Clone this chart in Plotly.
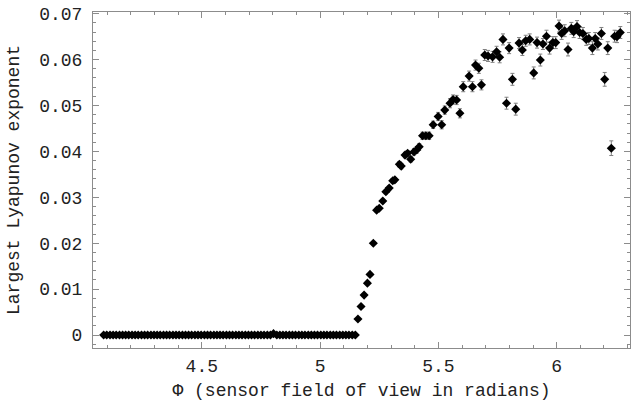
import plotly.graph_objects as go

# Flat (zero) region
x_flat = [4.085, 4.098, 4.112, 4.125, 4.138, 4.152, 4.165, 4.178, 4.191, 4.205,
          4.218, 4.231, 4.245, 4.258, 4.271, 4.285, 4.298, 4.311, 4.324, 4.338,
          4.351, 4.364, 4.378, 4.391, 4.404, 4.418, 4.431, 4.444, 4.457, 4.471,
          4.484, 4.497, 4.511, 4.524, 4.537, 4.551, 4.564, 4.577, 4.590, 4.604,
          4.617, 4.630, 4.644, 4.657, 4.670, 4.684, 4.697, 4.710, 4.723, 4.737,
          4.750, 4.763, 4.777, 4.790, 4.803, 4.817, 4.830, 4.843, 4.856, 4.870,
          4.883, 4.896, 4.910, 4.923, 4.936, 4.950, 4.963, 4.976, 4.989, 5.003,
          5.016, 5.029, 5.043, 5.056, 5.069, 5.083, 5.096, 5.109, 5.122, 5.136,
          5.149]
y_flat = [0, 0, 0, 0, 0, 0, 0, 0, 0, 0,
          0, 0, 0, 0, 0, 0, 0, 0, 0, 0,
          0, 0, 0, 0, 0, 0, 0, 0, 0, 0,
          0, 0, 0, 0, 0, 0, 0, 0, 0, 0,
          0, 0, 0, 0, 0, 0, 0, 0, 0, 0,
          0, 0, 0, 0, 0.0003, 0, 0, 0, 0, 0,
          0, 0, 0, 0, 0, 0, 0, 0, 0, 0,
          0, 0, 0, 0, 0, 0, 0, 0, 0, 0,
          0]

# Chaotic region
x_rise = [5.160, 5.173, 5.186, 5.200, 5.211, 5.225, 5.239, 5.250, 5.265, 5.278,
          5.292, 5.307, 5.316, 5.335, 5.343, 5.359, 5.370, 5.383, 5.397, 5.408,
          5.419, 5.433, 5.447, 5.461, 5.478, 5.499, 5.514, 5.527, 5.549, 5.562,
          5.577, 5.591, 5.605, 5.630, 5.644, 5.657, 5.671, 5.682, 5.696, 5.710,
          5.729, 5.746, 5.759, 5.773, 5.788, 5.799, 5.813, 5.827, 5.841, 5.855,
          5.869, 5.886, 5.903, 5.917, 5.931, 5.942, 5.957, 5.970, 5.984, 5.996,
          6.010, 6.021, 6.034, 6.048, 6.062, 6.072, 6.086, 6.097, 6.111, 6.125,
          6.136, 6.151, 6.163, 6.174, 6.189, 6.203, 6.216, 6.231, 6.245, 6.255,
          6.269]
y_rise = [0.0035, 0.0062, 0.0087, 0.0113, 0.0132, 0.0200, 0.0272, 0.0276, 0.0292, 0.0312,
          0.0320, 0.0336, 0.0338, 0.0372, 0.0368, 0.0392, 0.0396, 0.0383, 0.0399, 0.0403,
          0.0410, 0.0434, 0.0434, 0.0434, 0.0458, 0.0476, 0.0458, 0.0490, 0.0505, 0.0513,
          0.0512, 0.0483, 0.0541, 0.0564, 0.0541, 0.0588, 0.0581, 0.0545, 0.0610, 0.0608,
          0.0606, 0.0617, 0.0605, 0.0644, 0.0505, 0.0625, 0.0557, 0.0492, 0.0636, 0.0621,
          0.0641, 0.0644, 0.0571, 0.0637, 0.0599, 0.0634, 0.0651, 0.0625, 0.0637, 0.0637,
          0.0673, 0.0657, 0.0663, 0.0622, 0.0668, 0.0661, 0.0672, 0.0659, 0.0657, 0.0644,
          0.0646, 0.0625, 0.0646, 0.0634, 0.0657, 0.0557, 0.0625, 0.0407, 0.0651, 0.0650,
          0.0659]
err_rise = [0.0, 0.0, 0.0, 0.0, 0.0002, 0.0003, 0.0004, 0.0004, 0.0004, 0.0005,
            0.0005, 0.0005, 0.0005, 0.0006, 0.0006, 0.0006, 0.0006, 0.0006, 0.0007, 0.0007,
            0.0007, 0.0008, 0.0008, 0.0008, 0.0008, 0.0009, 0.0009, 0.0009, 0.0010, 0.0010,
            0.0010, 0.0010, 0.0011, 0.0011, 0.0011, 0.0011, 0.0011, 0.0011, 0.0012, 0.0012,
            0.0012, 0.0012, 0.0012, 0.0012, 0.0013, 0.0012, 0.0013, 0.0013, 0.0012, 0.0012,
            0.0012, 0.0012, 0.0013, 0.0012, 0.0013, 0.0012, 0.0013, 0.0013, 0.0013, 0.0013,
            0.0013, 0.0013, 0.0013, 0.0014, 0.0013, 0.0013, 0.0013, 0.0013, 0.0013, 0.0013,
            0.0013, 0.0014, 0.0013, 0.0013, 0.0013, 0.0015, 0.0014, 0.0016, 0.0013, 0.0013,
            0.0013]

x_title = "Φ (sensor field of view in radians)"
y_title = "Largest Lyapunov exponent"
FONT = "Liberation Mono, Courier New, monospace"
FSIZE = 18

fig = go.Figure()
fig.add_trace(go.Scatter(
    x=x_flat, y=y_flat, mode="markers",
    marker=dict(symbol="diamond", size=7, color="black"),
    showlegend=False, hoverinfo="x+y"))
fig.add_trace(go.Scatter(
    x=x_rise, y=y_rise, mode="markers",
    marker=dict(symbol="diamond", size=7, color="black"),
    error_y=dict(type="data", array=err_rise, visible=True,
                 color="#808080", thickness=1, width=2),
    showlegend=False, hoverinfo="x+y"))

axis_common = dict(
    showgrid=False, zeroline=False, showline=True, linecolor="#8c8c8c",
    linewidth=1, mirror="ticks", ticks="inside", ticklen=6, tickwidth=1,
    tickcolor="#8c8c8c", automargin=False,
    tickfont=dict(family=FONT, size=FSIZE, color="#222222"),
)

fig.update_xaxes(
    range=[4.04, 6.31], dtick=0.5, tick0=4.5,
    minor=dict(dtick=0.1, ticks="inside", ticklen=3, tickcolor="#8c8c8c"),
    title=dict(text=x_title, font=dict(family=FONT, size=FSIZE, color="#222222"),
               standoff=7),
    ticklabelstandoff=1,
    **axis_common)
fig.update_yaxes(
    range=[-0.00283, 0.07037], dtick=0.01, tick0=0,
    minor=dict(dtick=0.002, ticks="inside", ticklen=3, tickcolor="#8c8c8c"),
    title=dict(text=y_title, font=dict(family=FONT, size=FSIZE, color="#222222"),
               standoff=14),
    ticklabelstandoff=6,
    **axis_common)

fig.update_layout(
    width=632, height=408,
    margin=dict(l=93, r=2, t=12, b=60),
    paper_bgcolor="white", plot_bgcolor="white",
    font=dict(family=FONT, color="#222222"),
)

fig.write_html("out.html",
               config={"displayModeBar": False},
               post_script="document.body.style.margin='0';document.body.style.overflow='hidden';")
